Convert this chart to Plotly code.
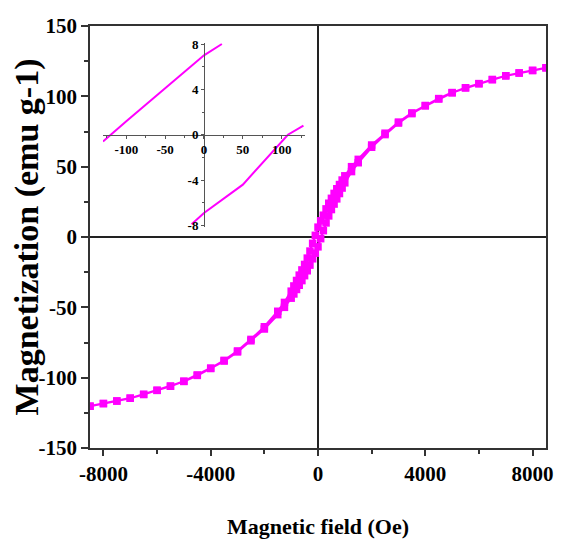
import plotly.graph_objects as go

# Main hysteresis loop: descending branch (from +H to -H)
H_desc = [8500, 8000, 7500, 7000, 6500, 6000, 5500, 5000, 4500, 4000, 3500, 3000, 2500, 2000,
          1500, 1250, 1000, 900, 800, 700, 600, 500, 400, 300, 200, 100, 0, -100, -200, -300, -400, -500,
          -600, -700, -800, -900, -1000, -1250, -1500, -2000, -2500, -3000, -3500, -4000, -4500, -5000, -5500,
          -6000, -6500, -7000, -7500, -8000, -8500]
M_desc = [120.3, 118.4, 116.6, 114.6, 111.9, 109.0, 106.1, 102.7, 98.4, 93.5, 88.2, 81.7, 73.8, 65.4,
          55.2, 50.0, 43.5, 40.5, 37.3, 34.3, 31.0, 27.5, 24.0, 20.0, 15.5, 11.5, 7.0, 1.2, -4.5, -10.0, -15.0, -19.5,
          -23.4, -27.1, -30.9, -34.8, -38.5, -46.5, -52.8, -63.8, -72.8, -81.0, -87.7, -93.2, -98.1, -102.5, -106.0,
          -109.0, -111.9, -114.6, -116.6, -118.4, -120.3]
# Ascending branch (from -H to +H)
H_asc = [-8500, -8000, -7500, -7000, -6500, -6000, -5500, -5000, -4500, -4000, -3500, -3000, -2500, -2000,
         -1500, -1250, -1000, -900, -800, -700, -600, -500, -400, -300, -200, -100, 0, 100, 200, 300, 400, 500,
         600, 700, 800, 900, 1000, 1250, 1500, 2000, 2500, 3000, 3500, 4000, 4500, 5000, 5500,
         6000, 6500, 7000, 7500, 8000, 8500]
M_asc = [-120.3, -118.4, -116.6, -114.6, -111.9, -109.0, -106.1, -102.7, -98.4, -93.5, -88.2, -81.7, -73.8, -65.4,
         -55.2, -50.0, -43.5, -40.5, -37.3, -34.3, -31.0, -27.5, -24.0, -20.0, -15.5, -11.5, -7.0, -1.2, 4.5, 10.0, 15.0, 19.5,
         23.4, 27.1, 30.9, 34.8, 38.5, 46.5, 52.8, 63.8, 72.8, 81.0, 87.7, 93.2, 98.1, 102.5, 106.0,
         109.0, 111.9, 114.6, 116.6, 118.4, 120.3]

# Inset (low-field zoom)
inset_H_upper = [-130, -120, -100, -50, 0, 23]
inset_M_upper = [-0.6, 0.0, 1.2, 4.1, 7.0, 8.0]
inset_H_lower = [-16, 0, 50, 100, 108, 128]
inset_M_lower = [-7.9, -6.9, -4.4, -0.6, 0.0, 0.8]

x_ticks = [-8000, -4000, 0, 4000, 8000]
y_ticks = [-150, -100, -50, 0, 50, 100, 150]
inset_x_ticks = [-100, -50, 0, 50, 100]
inset_y_ticks = [-8, -4, 0, 4, 8]

MAG = "#FF00FF"
FONT = "Liberation Serif"

fig = go.Figure()
fig.add_trace(go.Scatter(
    x=H_desc + H_asc, y=M_desc + M_asc, mode="lines+markers",
    line=dict(color=MAG, width=2.2),
    marker=dict(symbol="square", size=7.5, color=MAG),
    showlegend=False, xaxis="x", yaxis="y"))
fig.add_trace(go.Scatter(
    x=inset_H_upper, y=inset_M_upper, mode="lines",
    line=dict(color=MAG, width=2), showlegend=False, xaxis="x2", yaxis="y2"))
fig.add_trace(go.Scatter(
    x=inset_H_lower, y=inset_M_lower, mode="lines",
    line=dict(color=MAG, width=2), showlegend=False, xaxis="x2", yaxis="y2"))

tickfont = dict(family=FONT, size=21, color="black", weight="bold")
inset_font = dict(family=FONT, size=13, color="black", weight="bold")

fig.update_layout(
    width=556, height=538,
    margin=dict(l=82, r=18, t=13, b=98),
    paper_bgcolor="white", plot_bgcolor="white",
    xaxis=dict(
        range=[-8500, 8500], tickvals=x_ticks, ticktext=[str(v) for v in x_ticks],
        showgrid=False, zeroline=True, zerolinecolor="#222", zerolinewidth=1.5,
        showline=True, mirror=True, linecolor="#333", linewidth=1.5,
        ticks="outside", ticklen=6, tickwidth=1.5, tickcolor="#333",
        minor=dict(tickvals=[-6000, -2000, 2000, 6000], ticks="outside", ticklen=4, tickwidth=1.5, tickcolor="#333"),
        tickfont=tickfont,
        title=dict(text="Magnetic field (Oe)", font=dict(family=FONT, size=22, color="black", weight="bold"), standoff=34),
        automargin=False,
    ),
    yaxis=dict(
        range=[-150, 150], tickvals=y_ticks, ticktext=[str(v) for v in y_ticks],
        showgrid=False, zeroline=True, zerolinecolor="#222", zerolinewidth=1.5,
        showline=True, mirror=True, linecolor="#333", linewidth=1.5,
        ticks="outside", ticklen=7, tickwidth=1.5, tickcolor="#333",
        minor=dict(tickvals=[-125, -75, -25, 25, 75, 125], ticks="outside", ticklen=4, tickwidth=1.5, tickcolor="#333"),
        tickfont=tickfont,
        title=dict(text="Magnetization (emu g-1)", font=dict(family=FONT, size=34, color="black", weight="bold"), standoff=2),
        automargin=False,
    ),
    xaxis2=dict(
        domain=[0.0285, 0.4715], range=[-130, 130], anchor="free", position=0.742,
        tickvals=inset_x_ticks, ticktext=[str(v) for v in inset_x_ticks],
        showgrid=False, zeroline=False, showline=True, linecolor="#555", linewidth=1,
        ticks="outside", ticklen=3, tickwidth=1, tickcolor="#555",
        minor=dict(tickvals=[-125, -75, -25, 25, 75, 125], ticks="outside", ticklen=2, tickcolor="#555"),
        tickfont=inset_font, ticklabelstandoff=0,
    ),
    yaxis2=dict(
        domain=[0.5246, 0.96], range=[-8.1, 8.1], anchor="free", position=0.25,
        tickvals=inset_y_ticks, ticktext=[str(v) for v in inset_y_ticks],
        showgrid=False, zeroline=False, showline=True, linecolor="#555", linewidth=1,
        ticks="outside", ticklen=3, tickwidth=1, tickcolor="#555",
        minor=dict(tickvals=[-6, -2, 2, 6], ticks="outside", ticklen=2, tickcolor="#555"),
        tickfont=inset_font, ticklabelstandoff=0,
    ),
)

fig.write_html("out.html")
